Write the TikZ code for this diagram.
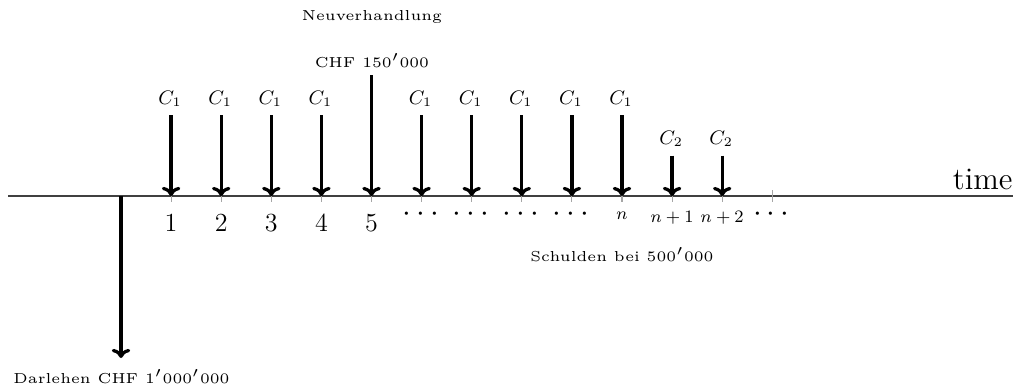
\documentclass[tikz,border=0pt]{standalone}
\usetikzlibrary{arrows.meta}
\newcommand{\smalltxt}[1]{\scalebox{1.33}{\tiny #1}}
\begin{document}
\begin{tikzpicture}[x=0.46pt,y=-0.46pt,
  axisline/.style={draw=black!75,line width=0.5pt},
  tickline/.style={draw=black!35,line width=0.5pt},
  flow/.style={draw=black,line width=1.5pt,-{To[length=4.2pt,width=8.5pt,line width=1.5pt]}},
  cl/.style={font=\small,inner sep=0pt},
  txt/.style={inner sep=0pt},
  ticklab/.style={anchor=base,inner sep=0pt}]
\useasboundingbox (0,0) rectangle (1013,387);
\coordinate (a0) at (8,196);
\coordinate (a1) at (1013,196);
\draw[axisline] (a0) -- (a1);
\node[anchor=south east,inner sep=0pt,font=\Large] (time) at (1013,190) {time};
% ticks
\foreach \i in {1,...,13} {
  \coordinate (t\i) at ({121+50.1*\i},196);
  \coordinate (tu\i) at ({121+50.1*\i},190);
  \coordinate (td\i) at ({121+50.1*\i},202);
  \draw[tickline] (tu\i) -- (td\i);
}
\coordinate (t0) at (121,196);
% loan
\coordinate (loan) at (121,358);
\draw[flow] (t0) -- (loan);
\node[txt] (darlehen) at (121.5,377) {\smalltxt{Darlehen CHF $1'000'000$}};
% C1 arrows
\foreach \i in {1,2,3,4,6,7,8,9,10} {
  \coordinate (s\i) at ({121+50.1*\i},115);
  \draw[flow] (s\i) -- (t\i);
  \node[cl] (c\i) at ({121+50.1*\i-1},99) {$C_1$};
}
% renegotiation
\coordinate (s5) at ({121+50.1*5},75);
\draw[flow] (s5) -- (t5);
\node[txt] (chf) at (372,61) {\smalltxt{CHF $150'000$}};
\node[txt] (neu) at (372,17) {\smalltxt{Neuverhandlung}};
% C2 arrows
\foreach \i in {11,12} {
  \coordinate (s\i) at ({121+50.1*\i},155.5);
  \draw[flow] (s\i) -- (t\i);
  \node[cl] (c\i) at ({121+50.1*\i-1},139) {$C_2$};
}
% tick labels
\foreach \i in {1,...,5} {
  \node[ticklab,font=\large] (l\i) at ({121+50.1*\i},231) {$\i$};
}
\foreach \i in {6,...,9,13} {
  \node[ticklab,font=\Large] (l\i) at ({121+50.1*\i-1},221.8) {$\cdots$};
}
\node[ticklab,font=\footnotesize] (l10) at ({121+50.1*10},219.3) {$n$};
\node[ticklab,font=\footnotesize] (l11) at ({121+50.1*11},222.7) {$n+1$};
\node[ticklab,font=\footnotesize] (l12) at ({121+50.1*12},222.7) {$n+2$};
\node[txt] (schulden) at (622,255) {\smalltxt{Schulden bei $500'000$}};
\end{tikzpicture}
\end{document}
